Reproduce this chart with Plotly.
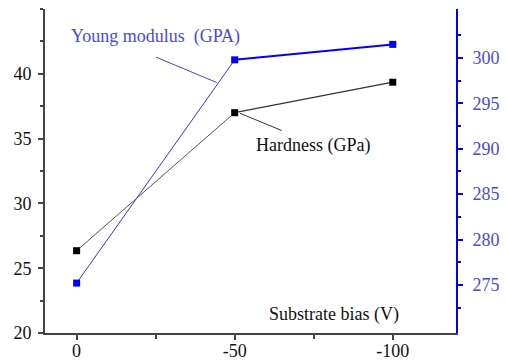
import plotly.graph_objects as go

bias = [0, -50, -100]
hardness = [26.35, 37.0, 39.35]
young = [275.2, 299.8, 301.5]

left_ticks = [20, 25, 30, 35, 40]
right_ticks = [275, 280, 285, 290, 295, 300]
x_ticks = [0, -50, -100]

FONT = "Times New Roman, Liberation Serif, serif"
BLUE = "#0000ff"
BLUE_TXT = "#4a4ad8"
GRAY = "#444444"
FS = 18

fig = go.Figure()

fig.add_trace(go.Scatter(x=bias[:2], y=hardness[:2], mode="lines",
                         line=dict(color="#555555", width=1), showlegend=False))
fig.add_trace(go.Scatter(x=bias[1:], y=hardness[1:], mode="lines",
                         line=dict(color="#333333", width=1.3), showlegend=False))
fig.add_trace(go.Scatter(x=bias, y=hardness, mode="markers",
                         marker=dict(symbol="square", size=7, color="black"),
                         showlegend=False))

fig.add_trace(go.Scatter(x=bias[:2], y=young[:2], mode="lines", yaxis="y2",
                         line=dict(color="#3333ee", width=1), showlegend=False))
fig.add_trace(go.Scatter(x=bias[1:], y=young[1:], mode="lines", yaxis="y2",
                         line=dict(color=BLUE, width=2), showlegend=False))
fig.add_trace(go.Scatter(x=bias, y=young, mode="markers", yaxis="y2",
                         marker=dict(symbol="square", size=7, color=BLUE),
                         showlegend=False))

fig.update_layout(
    width=506, height=360,
    margin=dict(l=45, r=50, t=9, b=27, autoexpand=False),
    paper_bgcolor="white", plot_bgcolor="white",
    font=dict(family=FONT, size=FS, color="#111111"),
    xaxis=dict(range=[10, -120], tickvals=x_ticks, ticktext=[str(v) for v in x_ticks],
               ticks="outside", ticklen=5, tickwidth=1.5, tickcolor=GRAY,
               minor=dict(tickvals=[-25, -75], ticks="outside", ticklen=4, tickcolor=GRAY),
               showline=True, linecolor=GRAY, linewidth=2, showgrid=False, zeroline=False,
               automargin=False, ticklabelstandoff=-5, tickfont=dict(family=FONT, size=FS)),
    xaxis2=dict(range=[10, -120], overlaying="x", side="top", tickvals=x_ticks,
                ticks="inside", ticklen=6, tickwidth=1.5, tickcolor=GRAY,
                minor=dict(tickvals=[-25, -75], ticks="inside", ticklen=3, tickcolor=GRAY),
                showticklabels=False, showline=True, linecolor="#666666", linewidth=2,
                showgrid=False, zeroline=False, automargin=False),
    yaxis=dict(range=[20, 45], tickvals=left_ticks, ticks="outside", ticklen=5,
               tickwidth=1.5, tickcolor=GRAY,
               minor=dict(dtick=2.5, tick0=22.5, ticks="outside", ticklen=3, tickcolor=GRAY),
               showline=True, linecolor=GRAY, linewidth=2, showgrid=False, zeroline=False,
               automargin=False, ticklabelstandoff=3, tickfont=dict(family=FONT, size=FS)),
    yaxis2=dict(range=[269.7, 305.4], overlaying="y", side="right", tickvals=right_ticks,
                ticks="outside", ticklen=5, tickwidth=1.5, tickcolor=BLUE,
                minor=dict(dtick=5, tick0=272.5, ticks="outside", ticklen=3, tickcolor=BLUE),
                showline=True, linecolor=BLUE, linewidth=2, showgrid=False, zeroline=False,
                automargin=False, ticklabelstandoff=6,
                tickfont=dict(color=BLUE_TXT, size=FS, family=FONT)),
)

fig.add_annotation(x=-25, y=302.35, xref="x", yref="y2", text="Young modulus  (GPA)",
                   showarrow=False, font=dict(color=BLUE_TXT, size=FS, family=FONT))
fig.add_shape(type="line", xref="x", yref="y2", x0=-25.1, y0=300.1, x1=-44.3, y1=297.3,
              line=dict(color="#4444cc", width=1))
fig.add_annotation(x=-74.9, y=34.5, xref="x", yref="y", text="Hardness (GPa)",
                   showarrow=False, font=dict(color="#111111", size=FS, family=FONT))
fig.add_shape(type="line", xref="x", yref="y", x0=-51.7, y0=36.95, x1=-64.9, y1=35.62,
              line=dict(color="#333333", width=1))
fig.add_annotation(x=-81.4, y=21.4, xref="x", yref="y", text="Substrate bias (V)",
                   showarrow=False, font=dict(color="#111111", size=FS, family=FONT))

fig.write_html("out.html")
